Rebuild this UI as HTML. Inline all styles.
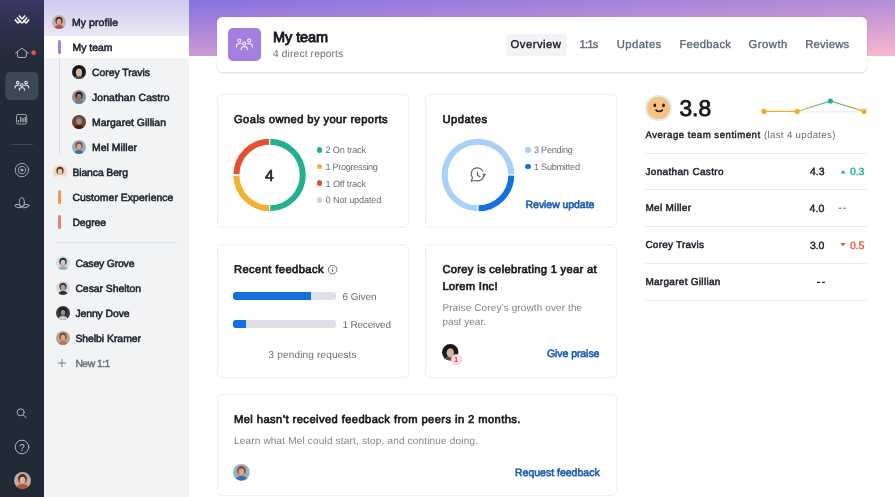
<!DOCTYPE html>
<html lang="en">
<head>
<meta charset="utf-8">
<title>My team</title>
<style>
*{box-sizing:border-box;margin:0;padding:0}
html,body{width:895px;height:497px;overflow:hidden}
body{font-family:"Liberation Sans",Arial,sans-serif;color:#1f2733;background:#fff;position:relative;text-rendering:geometricPrecision}
.abs{position:absolute}
#nav{left:0;top:0;width:44px;height:497px;background:linear-gradient(180deg,#393763 0px,#313254 18px,#292e45 36px,#252c3c 52px,#222b38 70px,#212a37 90px,#212a37 100%)}
#side{left:44px;top:0;width:144.600px;height:497px;background:linear-gradient(180deg,#cfc9ef 0px,#ddd9f1 18px,#e9e7f3 34px,#f2f3f5 52px,#f2f3f5 100%)}
#banner{left:188.500px;top:0;width:706.500px;height:55.600px;background:linear-gradient(177deg,#8670e0 0%,#f8b8cd 100%)}
.card{position:absolute;background:#fff;border:1px solid #eeeff0;border-radius:5px}
.t{position:absolute;white-space:pre;line-height:1}
.dot{position:absolute;width:5.6px;height:5.6px;border-radius:50%}
.hr{position:absolute;left:645px;width:222px;height:1px;background:#e9eaec}
.bar{position:absolute;left:233.4px;height:8.4px;border-radius:3px}
</style>
</head>
<body>
<div id="nav" class="abs">
<svg class="abs" style="left:0;top:0" width="44" height="497" viewBox="0 0 44 497" fill="none" stroke-linecap="round" stroke-linejoin="round">
<g stroke="#fff" stroke-width="1.500" stroke-linecap="butt">
<path d="M14.900 19.600l3.100 3.700M16.800 17.500l5.100 5.800M18.900 15.400l3 3.500M23.400 20.300l2.700 3"/>
<path d="M29.100 19.600l-3.100 3.700M27.200 17.500l-5.100 5.800M25.100 15.400l-3 3.500M20.600 20.300l-2.700 3"/>
</g>
<path d="M15.500 53.200l6.400-5.100 6.400 5.100M17.500 52.300v3.800a1.400 1.400 0 0 0 1.400 1.400h6a1.400 1.400 0 0 0 1.400-1.400v-3.800" stroke="#bcc2ca" stroke-width=".900"/>
<circle cx="33.650" cy="52.650" r="2.400" fill="#e4573f"/>
<rect x="5.300" y="72" width="33" height="28" rx="5" fill="#3c4959"/>
<g stroke="#eceef1" stroke-width="1.250" transform="translate(21.900,85.200) scale(.850)"><circle cx="-4.900" cy="-3.100" r="1.550"/><circle cx="4.900" cy="-3.100" r="1.550"/><circle cx="0" cy="-.100" r="1.550"/><path d="M-8 3.400v-.800a2.600 2.600 0 0 1 2.600-2.600h2.300M8 3.400v-.800a2.600 2.600 0 0 0-2.600-2.600h-2.300M-3 5.900v-.700a2.300 2.300 0 0 1 2.300-2.300h1.400a2.300 2.300 0 0 1 2.300 2.300v.700"/></g>
<g stroke="#a9b0b9" stroke-width=".900">
<rect x="16.500" y="114.500" width="10.200" height="9.500" rx="1.400"/>
<path d="M18.500 122.200v-1.900M20.800 122.200v-5.300M23 122.200v-4.400M25.200 122.200v-5.300" stroke="#e4e7eb" stroke-width=".950" stroke-linecap="butt"/>
</g>
<path d="M11 144.500h22" stroke="#3a4654" stroke-width="1" stroke-linecap="butt"/>
<g stroke="#b3b9c2" stroke-width=".900">
<circle cx="21.900" cy="170.100" r="6.700"/><circle cx="21.900" cy="170.100" r="3.700"/><circle cx="21.900" cy="170.100" r="1" fill="#b3b9c2"/>
</g>
<g stroke="#b3b9c2" stroke-width=".900">
<ellipse cx="21.900" cy="202.400" rx="2.500" ry="4.900"/>
<ellipse cx="18.200" cy="206.100" rx="3.400" ry="1.500" transform="rotate(14 18.200 206.100)"/>
<ellipse cx="25.600" cy="206.100" rx="3.400" ry="1.500" transform="rotate(-14 25.600 206.100)"/>
</g>
<g stroke="#b9bfc7" stroke-width=".900">
<circle cx="20.700" cy="412.300" r="3.500"/><path d="M23.300 414.900l2.900 2.900"/>
</g>
<circle cx="22" cy="447" r="6.800" stroke="#b9bfc7" stroke-width=".900"/>
<text x="22" y="450.600" text-anchor="middle" font-family="Liberation Sans, sans-serif" font-size="10" fill="#c3c8cf" stroke="none">?</text>
</svg>
<svg class="abs" style="left:13.5px;top:471.5px" width="17" height="17" viewBox="0 0 20 20"><defs><clipPath id="a1"><circle cx="10" cy="10" r="10"/></clipPath></defs><g clip-path="url(#a1)"><rect width="20" height="20" fill="#c9a89c"/><ellipse cx="10" cy="8" rx="5.2" ry="5.6" fill="#4a2f2a"/><path d="M2 21c1-5 4-6.800 8-6.800s7 1.800 8 6.800z" fill="#b5533c"/><ellipse cx="10" cy="9.6" rx="3.3" ry="4.1" fill="#e0b49c"/></g></svg></div>
<div id="side" class="abs">
<div class="abs" style="left:0;top:36px;width:144.600px;height:22px;background:#fff"></div>
<div class="abs" style="left:14.900px;top:58px;width:1.200px;height:96px;background:#dad5f3"></div>
<div class="abs" style="left:14px;top:40px;width:3.2px;height:14.2px;border-radius:1.6px;background:#9d80e6"></div>
<div class="abs" style="left:14px;top:190px;width:3.2px;height:14.2px;border-radius:1.6px;background:#ee9654"></div>
<div class="abs" style="left:14px;top:215px;width:3.2px;height:14.2px;border-radius:1.6px;background:#ee7d78"></div>
<div class="abs" style="left:12px;top:242px;width:121px;height:1px;background:#dfe2e7"></div>
<svg class="abs" style="left:13.400px;top:357.600px" width="10" height="10" viewBox="0 0 10 10"><path d="M5 .900v8.200M.900 5h8.200" stroke="#6b7380" stroke-width=".900" fill="none"/></svg>
<svg class="abs" style="left:8px;top:15.2px" width="14" height="14" viewBox="0 0 20 20"><defs><clipPath id="a2"><circle cx="10" cy="10" r="10"/></clipPath></defs><g clip-path="url(#a2)"><rect width="20" height="20" fill="#c4b0a8"/><ellipse cx="10" cy="8" rx="5.2" ry="5.6" fill="#4a2f2a"/><path d="M2 21c1-5 4-6.800 8-6.800s7 1.800 8 6.800z" fill="#b5533c"/><ellipse cx="10" cy="9.6" rx="3.3" ry="4.1" fill="#d9a68c"/></g></svg>
<svg class="abs" style="left:28.2px;top:65px" width="14" height="14" viewBox="0 0 20 20"><defs><clipPath id="a3"><circle cx="10" cy="10" r="10"/></clipPath></defs><g clip-path="url(#a3)"><rect width="20" height="20" fill="#1c1a1a"/><ellipse cx="10" cy="8" rx="5.2" ry="5.6" fill="#121212"/><path d="M2 21c1-5 4-6.800 8-6.800s7 1.800 8 6.800z" fill="#5a4a48"/><ellipse cx="10" cy="10.6" rx="4.4" ry="5.6" fill="#d3b3a4"/></g></svg>
<svg class="abs" style="left:28.2px;top:90px" width="14" height="14" viewBox="0 0 20 20"><defs><clipPath id="a4"><circle cx="10" cy="10" r="10"/></clipPath></defs><g clip-path="url(#a4)"><rect width="20" height="20" fill="#8a939e"/><ellipse cx="10" cy="8" rx="5.2" ry="5.6" fill="#2a1c16"/><path d="M2 21c1-5 4-6.800 8-6.800s7 1.800 8 6.800z" fill="#6e7d8c"/><ellipse cx="10" cy="9.6" rx="3.3" ry="4.1" fill="#a8714f"/></g></svg>
<svg class="abs" style="left:28.2px;top:115px" width="14" height="14" viewBox="0 0 20 20"><defs><clipPath id="a5"><circle cx="10" cy="10" r="10"/></clipPath></defs><g clip-path="url(#a5)"><rect width="20" height="20" fill="#7b3a2a"/><ellipse cx="10" cy="8" rx="5.2" ry="5.6" fill="#2f7f8f"/><path d="M2 21c1-5 4-6.800 8-6.800s7 1.800 8 6.800z" fill="#3a1c14"/><ellipse cx="10" cy="9.6" rx="3.3" ry="4.1" fill="#c08060"/></g></svg>
<svg class="abs" style="left:28.2px;top:140px" width="14" height="14" viewBox="0 0 20 20"><defs><clipPath id="a6"><circle cx="10" cy="10" r="10"/></clipPath></defs><g clip-path="url(#a6)"><rect width="20" height="20" fill="#8fb3c9"/><ellipse cx="10" cy="8" rx="5.2" ry="5.6" fill="#a33d2c"/><path d="M2 21c1-5 4-6.800 8-6.800s7 1.800 8 6.800z" fill="#3f6f9c"/><ellipse cx="10" cy="9.6" rx="3.3" ry="4.1" fill="#d6a78c"/></g></svg>
<svg class="abs" style="left:8.5px;top:165.2px" width="14" height="14" viewBox="0 0 20 20"><defs><clipPath id="a7"><circle cx="10" cy="10" r="10"/></clipPath></defs><g clip-path="url(#a7)"><rect width="20" height="20" fill="#f0d8c4"/><ellipse cx="10" cy="8" rx="5.2" ry="5.6" fill="#5a3424"/><path d="M2 21c1-5 4-6.800 8-6.800s7 1.800 8 6.800z" fill="#f4efe9"/><ellipse cx="10" cy="9.6" rx="3.3" ry="4.1" fill="#efc4a8"/></g></svg>
<svg class="abs" style="left:11.5px;top:255.6px" width="14" height="14" viewBox="0 0 20 20"><defs><clipPath id="a8"><circle cx="10" cy="10" r="10"/></clipPath></defs><g clip-path="url(#a8)"><rect width="20" height="20" fill="#cfe0ea"/><ellipse cx="10" cy="8" rx="5.2" ry="5.6" fill="#2b2b2b"/><path d="M2 21c1-5 4-6.800 8-6.800s7 1.800 8 6.800z" fill="#9ab0c0"/><ellipse cx="10" cy="9.6" rx="3.3" ry="4.1" fill="#e6c3ac"/></g></svg>
<svg class="abs" style="left:11.5px;top:280.6px" width="14" height="14" viewBox="0 0 20 20"><defs><clipPath id="a9"><circle cx="10" cy="10" r="10"/></clipPath></defs><g clip-path="url(#a9)"><rect width="20" height="20" fill="#d7dce2"/><ellipse cx="10" cy="8" rx="5.2" ry="5.6" fill="#3a3a3a"/><path d="M2 21c1-5 4-6.800 8-6.800s7 1.800 8 6.800z" fill="#2a2d33"/><ellipse cx="10" cy="9.6" rx="3.3" ry="4.1" fill="#c49a80"/></g></svg>
<svg class="abs" style="left:11.5px;top:305.6px" width="14" height="14" viewBox="0 0 20 20"><defs><clipPath id="a10"><circle cx="10" cy="10" r="10"/></clipPath></defs><g clip-path="url(#a10)"><rect width="20" height="20" fill="#3a3a3a"/><ellipse cx="10" cy="8" rx="5.2" ry="5.6" fill="#161616"/><path d="M2 21c1-5 4-6.800 8-6.800s7 1.800 8 6.800z" fill="#d0d0d0"/><ellipse cx="10" cy="9.6" rx="3.3" ry="4.1" fill="#8a8a8a"/></g></svg>
<svg class="abs" style="left:11.5px;top:330.6px" width="14" height="14" viewBox="0 0 20 20"><defs><clipPath id="a11"><circle cx="10" cy="10" r="10"/></clipPath></defs><g clip-path="url(#a11)"><rect width="20" height="20" fill="#b8a48c"/><ellipse cx="10" cy="8" rx="5.2" ry="5.6" fill="#6a4a34"/><path d="M2 21c1-5 4-6.800 8-6.800s7 1.800 8 6.800z" fill="#c0705a"/><ellipse cx="10" cy="9.6" rx="3.3" ry="4.1" fill="#d8a888"/></g></svg>
</div>
<div id="banner" class="abs"></div>
<div class="card" style="left:217px;top:16.500px;width:650px;height:55.500px;border:none;border-radius:5.500px;box-shadow:0 .500px 2px rgba(30,40,60,.17)">
<div class="abs" style="left:11px;top:11.500px;width:33.200px;height:33px;border-radius:5px;background:#a47fe0"></div>
<svg class="abs" style="left:16px;top:16px" width="24" height="24" viewBox="-12 -12 24 24" fill="none" stroke="#f6f0fd" stroke-width="1.100" stroke-linecap="round"><g transform="translate(-.700,-1.300)"><circle cx="-4.900" cy="-3.100" r="1.550"/><circle cx="4.900" cy="-3.100" r="1.550"/><circle cx="0" cy="-.100" r="1.550"/><path d="M-8 3.400v-.800a2.600 2.600 0 0 1 2.600-2.600h2.300M8 3.400v-.800a2.600 2.600 0 0 0-2.600-2.600h-2.300M-3 5.900v-.700a2.300 2.300 0 0 1 2.300-2.300h1.400a2.300 2.300 0 0 1 2.300 2.300v.700"/></g></svg>
<div class="abs" style="left:289px;top:17.300px;width:61.300px;height:21.800px;border-radius:4px;background:#f2f3f5"></div>
</div>
<div class="card" style="left:217px;top:94px;width:192px;height:134px"></div>
<div class="card" style="left:425px;top:94px;width:192px;height:134px"></div>
<div class="card" style="left:217px;top:244px;width:192px;height:133.500px"></div>
<div class="card" style="left:425px;top:244px;width:192px;height:133.500px"></div>
<div class="card" style="left:217px;top:394px;width:400px;height:102px"></div>
<svg class="abs" style="left:229px;top:135px" width="82" height="80" viewBox="229 135 82 80" fill="none" stroke-width="6"><path d="M270.28 141.71A33.3 33.3 0 0 1 270.28 208.29" stroke="#22b090"/><path d="M269.12 208.29A33.3 33.3 0 0 1 236.41 175.87" stroke="#f2b12e"/><path d="M236.41 174.13A33.3 33.3 0 0 1 269.12 141.71" stroke="#e54f32"/></svg>
<svg class="abs" style="left:437px;top:135px" width="82" height="80" viewBox="437 135 82 80" fill="none" stroke-width="6"><path d="M477.42 208.29A33.3 33.3 0 1 1 511.29 174.42" stroke="#a9d1f7"/><path d="M511.29 175.58A33.3 33.3 0 0 1 478.58 208.29" stroke="#1470da"/><g stroke="#5b616b" stroke-width="1.150" stroke-linecap="round" stroke-linejoin="round">
<path d="M482.61 171.04A6.1 6.1 0 1 0 472.41 177.66L471.400 181.300L475.51 180.46A6.1 6.1 0 0 0 483.84 175.65"/>
<path d="M477.500 171.800v3.500l2.300 1.500"/>
<path d="M483.100 173.900l2.500 .300-1.400 2.200z" fill="#5b616b" stroke-width=".600"/>
</g></svg>
<div class="dot" style="left:316.600px;top:147.2px;background:#22b090"></div><div class="dot" style="left:316.600px;top:163.8px;background:#f2b12e"></div><div class="dot" style="left:316.600px;top:180.4px;background:#e54f32"></div><div class="dot" style="left:316.600px;top:197.2px;background:#cfd4db"></div><div class="dot" style="left:525.200px;top:147.2px;background:#a9d1f7"></div><div class="dot" style="left:525.200px;top:163.8px;background:#1470da"></div>
<div class="bar" style="top:291.600px;width:103px;background:#dde1e6"></div><div class="bar" style="top:291.600px;width:77.200px;background:#1470da;border-radius:3px 0 0 3px"></div><div class="bar" style="top:319.500px;width:103px;background:#dde1e6"></div><div class="bar" style="top:319.500px;width:13px;background:#1470da;border-radius:3px 0 0 3px"></div>
<svg class="abs" style="left:327px;top:264px" width="11" height="11" viewBox="0 0 11 11" fill="none" stroke="#5b6470" stroke-width=".9"><circle cx="5.600" cy="5.600" r="4.300"/><path d="M5.600 5.200v2.600M5.600 3.400v.4" stroke-linecap="round"/></svg>
<svg class="abs" style="left:442.2px;top:344.3px" width="16.6" height="16.6" viewBox="0 0 20 20"><defs><clipPath id="a12"><circle cx="10" cy="10" r="10"/></clipPath></defs><g clip-path="url(#a12)"><rect width="20" height="20" fill="#1c1a1a"/><ellipse cx="10" cy="8" rx="5.2" ry="5.6" fill="#121212"/><path d="M2 21c1-5 4-6.800 8-6.800s7 1.800 8 6.800z" fill="#5a4a48"/><ellipse cx="10" cy="10.6" rx="4.4" ry="5.6" fill="#d3b3a4"/></g></svg>
<div class="abs" style="left:450.700px;top:353.900px;width:11px;height:11px;border-radius:50%;background:#fbe3e1;border:.600px solid #f3b9b4"></div>
<svg class="abs" style="left:233.4px;top:463.8px" width="16.8" height="16.8" viewBox="0 0 20 20"><defs><clipPath id="a13"><circle cx="10" cy="10" r="10"/></clipPath></defs><g clip-path="url(#a13)"><rect width="20" height="20" fill="#8fb3c9"/><ellipse cx="10" cy="8" rx="5.2" ry="5.6" fill="#a33d2c"/><path d="M2 21c1-5 4-6.800 8-6.800s7 1.800 8 6.800z" fill="#3f6f9c"/><ellipse cx="10" cy="9.6" rx="3.3" ry="4.1" fill="#d6a78c"/></g></svg>
<div class="abs" style="left:645.100px;top:94.700px;width:26.800px;height:26.800px;border-radius:50%;background:#d6f0ea"></div><div class="abs" style="left:647.400px;top:97px;width:22.200px;height:22.200px;border-radius:50%;background:#fac281"></div><svg class="abs" style="left:646.500px;top:96px" width="24" height="24" viewBox="0 0 24 24" fill="none"><ellipse cx="7.800" cy="9.400" rx="1.400" ry="1.800" fill="#201a1e"/><ellipse cx="16.500" cy="9.400" rx="1.400" ry="1.800" fill="#201a1e"/><path d="M9.100 14.200c1 1 2 1.300 3.100 1.300s2.100-.3 3.100-1.300" stroke="#201a1e" stroke-width="1.700" stroke-linecap="round"/></svg>
<svg class="abs" style="left:755px;top:92px" width="120" height="30" viewBox="755 92 120 30" fill="none">
<defs><linearGradient id="sg1" x1="797" x2="830" y1="0" y2="0" gradientUnits="userSpaceOnUse"><stop offset="0" stop-color="#f0ae2c"/><stop offset="1" stop-color="#22b090"/></linearGradient><linearGradient id="sg2" x1="830" x2="864" y1="0" y2="0" gradientUnits="userSpaceOnUse"><stop offset="0" stop-color="#22b090"/><stop offset="1" stop-color="#f0ae2c"/></linearGradient></defs>
<path d="M797 111.800h67" stroke="#e1e4e8" stroke-width=".8"/>
<path d="M764 111.400h33.200" stroke="#f0ae2c" stroke-width="1.100"/>
<path d="M797.200 111.400L830.400 101" stroke="url(#sg1)" stroke-width="1.100"/>
<path d="M830.400 101L864 111.400" stroke="url(#sg2)" stroke-width="1.100"/>
<circle cx="764" cy="111.400" r="2.600" fill="#f0ae2c"/><circle cx="797.200" cy="111.400" r="2.600" fill="#f0ae2c"/><circle cx="830.400" cy="101" r="2.600" fill="#22b090"/><circle cx="864" cy="111.400" r="2.600" fill="#f0ae2c"/>
</svg>
<svg class="abs" style="left:838px;top:165px" width="10" height="90" viewBox="838 165 10 90"><path d="M840.500 173.500l2.600-3.600 2.600 3.600z" fill="#22b090"/><path d="M840.400 243l2.600 3.600 2.600-3.600z" fill="#e5593f"/></svg>
<div class="hr" style="top:152.5px"></div><div class="hr" style="top:188.9px"></div><div class="hr" style="top:225.7px"></div><div class="hr" style="top:262.7px"></div><div class="hr" style="top:299.7px"></div>
<div class="t" style="left:72px;top:19px;font-size:10.4px;color:#1b202a;letter-spacing:0.11px;-webkit-text-stroke:0.55px #1b202a;">My profile</div>
<div class="t" style="left:72.6px;top:44px;font-size:10.4px;color:#1b202a;letter-spacing:-0.01px;-webkit-text-stroke:0.55px #1b202a;">My team</div>
<div class="t" style="left:92px;top:69px;font-size:10.4px;color:#1b202a;letter-spacing:-0.03px;-webkit-text-stroke:0.55px #1b202a;">Corey Travis</div>
<div class="t" style="left:92px;top:94px;font-size:10.4px;color:#1b202a;letter-spacing:0.1px;-webkit-text-stroke:0.55px #1b202a;">Jonathan Castro</div>
<div class="t" style="left:92px;top:119px;font-size:10.4px;color:#1b202a;letter-spacing:0.04px;-webkit-text-stroke:0.55px #1b202a;">Margaret Gillian</div>
<div class="t" style="left:92px;top:144px;font-size:10.4px;color:#1b202a;letter-spacing:0.06px;-webkit-text-stroke:0.55px #1b202a;">Mel Miller</div>
<div class="t" style="left:72.4px;top:169px;font-size:10.4px;color:#1b202a;letter-spacing:-0.1px;-webkit-text-stroke:0.55px #1b202a;">Bianca Berg</div>
<div class="t" style="left:72.4px;top:194px;font-size:10.4px;color:#1b202a;letter-spacing:0.06px;-webkit-text-stroke:0.55px #1b202a;">Customer Experience</div>
<div class="t" style="left:72.4px;top:219px;font-size:10.4px;color:#1b202a;letter-spacing:-0.1px;-webkit-text-stroke:0.55px #1b202a;">Degree</div>
<div class="t" style="left:75.4px;top:260px;font-size:10.4px;color:#1b202a;letter-spacing:-0.16px;-webkit-text-stroke:0.55px #1b202a;">Casey Grove</div>
<div class="t" style="left:75.4px;top:285px;font-size:10.4px;color:#1b202a;letter-spacing:-0.02px;-webkit-text-stroke:0.55px #1b202a;">Cesar Shelton</div>
<div class="t" style="left:75.4px;top:310px;font-size:10.4px;color:#1b202a;letter-spacing:-0.08px;-webkit-text-stroke:0.55px #1b202a;">Jenny Dove</div>
<div class="t" style="left:75.4px;top:335px;font-size:10.4px;color:#1b202a;letter-spacing:-0.02px;-webkit-text-stroke:0.55px #1b202a;">Shelbi Kramer</div>
<div class="t" style="left:75.4px;top:360px;font-size:10.4px;color:#6a6f77;letter-spacing:-0.52px;-webkit-text-stroke:0.4px #6a6f77;">New 1:1</div>
<div class="t" style="left:273px;top:31px;font-size:14.5px;color:#15181e;letter-spacing:-0.07px;-webkit-text-stroke:0.84px #15181e;">My team</div>
<div class="t" style="left:273px;top:50px;font-size:10.2px;color:#6a6f77;letter-spacing:0.15px;">4 direct reports</div>
<div class="t" style="left:510.6px;top:40px;font-size:11.3px;color:#15181e;letter-spacing:0.47px;-webkit-text-stroke:0.35px #15181e;">Overview</div>
<div class="t" style="left:579.4px;top:40px;font-size:11.3px;color:#59636f;letter-spacing:-0.79px;-webkit-text-stroke:0.3px #59636f;">1:1s</div>
<div class="t" style="left:616.8px;top:40px;font-size:11.3px;color:#59636f;letter-spacing:0.39px;-webkit-text-stroke:0.3px #59636f;">Updates</div>
<div class="t" style="left:679.4px;top:40px;font-size:11.3px;color:#59636f;letter-spacing:0.28px;-webkit-text-stroke:0.3px #59636f;">Feedback</div>
<div class="t" style="left:748.6px;top:40px;font-size:11.3px;color:#59636f;letter-spacing:0.48px;-webkit-text-stroke:0.3px #59636f;">Growth</div>
<div class="t" style="left:805.2px;top:40px;font-size:11.3px;color:#59636f;letter-spacing:0.23px;-webkit-text-stroke:0.3px #59636f;">Reviews</div>
<div class="t" style="left:234px;top:115px;font-size:11.2px;color:#15181e;letter-spacing:0.41px;-webkit-text-stroke:0.65px #15181e;">Goals owned by your reports</div>
<div class="t" style="left:265px;top:169px;font-size:15.8px;color:#15181e;letter-spacing:0.4px;-webkit-text-stroke:0.6px #15181e;">4</div>
<div class="t" style="left:325.6px;top:146px;font-size:9.2px;color:#6a6f77;letter-spacing:-0.22px;">2 On track</div>
<div class="t" style="left:325.6px;top:163px;font-size:9.2px;color:#6a6f77;letter-spacing:-0.36px;">1 Progressing</div>
<div class="t" style="left:325.6px;top:180px;font-size:9.2px;color:#6a6f77;letter-spacing:-0.18px;">1 Off track</div>
<div class="t" style="left:325.6px;top:196px;font-size:9.2px;color:#6a6f77;letter-spacing:-0.16px;">0 Not updated</div>
<div class="t" style="left:442.4px;top:115px;font-size:11.2px;color:#15181e;letter-spacing:0.49px;-webkit-text-stroke:0.65px #15181e;">Updates</div>
<div class="t" style="left:534px;top:146px;font-size:9.2px;color:#6a6f77;letter-spacing:-0.3px;">3 Pending</div>
<div class="t" style="left:534px;top:163px;font-size:9.2px;color:#6a6f77;letter-spacing:-0.3px;">1 Submitted</div>
<div class="t" style="left:525.6px;top:200px;font-size:10.5px;color:#1d5fb6;letter-spacing:-0.06px;-webkit-text-stroke:0.61px #1d5fb6;">Review update</div>
<div class="t" style="left:234px;top:265px;font-size:11.2px;color:#15181e;letter-spacing:0.4px;-webkit-text-stroke:0.65px #15181e;">Recent feedback</div>
<div class="t" style="left:342.4px;top:293px;font-size:10px;color:#6a6f77;letter-spacing:-0.04px;">6 Given</div>
<div class="t" style="left:342.4px;top:321px;font-size:10px;color:#6a6f77;letter-spacing:-0.16px;">1 Received</div>
<div class="t" style="left:268.6px;top:351px;font-size:10px;color:#6a6f77;letter-spacing:0.17px;">3 pending requests</div>
<div class="t" style="left:442.4px;top:265px;font-size:11.2px;color:#15181e;letter-spacing:0.3px;-webkit-text-stroke:0.65px #15181e;">Corey is celebrating 1 year at</div>
<div class="t" style="left:442.4px;top:282px;font-size:11.2px;color:#15181e;letter-spacing:0.26px;-webkit-text-stroke:0.65px #15181e;">Lorem Inc!</div>
<div class="t" style="left:442.4px;top:304px;font-size:10px;color:#7e838b;letter-spacing:0.11px;">Praise Corey’s growth over the</div>
<div class="t" style="left:442.4px;top:318px;font-size:10px;color:#7e838b;letter-spacing:0.03px;">past year.</div>
<div class="t" style="left:547px;top:349px;font-size:10.5px;color:#1d5fb6;letter-spacing:-0.07px;-webkit-text-stroke:0.61px #1d5fb6;">Give praise</div>
<div class="t" style="left:234px;top:415px;font-size:11.2px;color:#15181e;letter-spacing:0.41px;-webkit-text-stroke:0.65px #15181e;">Mel hasn’t received feedback from peers in 2 months.</div>
<div class="t" style="left:234px;top:437px;font-size:10px;color:#7e838b;letter-spacing:0.18px;">Learn what Mel could start, stop, and continue doing.</div>
<div class="t" style="left:515px;top:468px;font-size:10.5px;color:#1d5fb6;-webkit-text-stroke:0.61px #1d5fb6;">Request feedback</div>
<div class="t" style="left:679.4px;top:97px;font-size:22.8px;color:#15181e;letter-spacing:0.05px;-webkit-text-stroke:0.8px #15181e;">3.8</div>
<div class="t" style="left:645.4px;top:131px;font-size:9.6px;color:#1b202a;letter-spacing:0.52px;-webkit-text-stroke:0.45px #1b202a;">Average team sentiment</div>
<div class="t" style="left:764px;top:131px;font-size:9.6px;color:#6a6f77;letter-spacing:0.35px;">(last 4 updates)</div>
<div class="t" style="left:645.4px;top:168px;font-size:10px;color:#1b202a;letter-spacing:0.34px;-webkit-text-stroke:0.5px #1b202a;">Jonathan Castro</div>
<div class="t" style="left:645.4px;top:204px;font-size:10px;color:#1b202a;letter-spacing:0.31px;-webkit-text-stroke:0.5px #1b202a;">Mel Miller</div>
<div class="t" style="left:645.4px;top:241px;font-size:10px;color:#1b202a;letter-spacing:0.23px;-webkit-text-stroke:0.5px #1b202a;">Corey Travis</div>
<div class="t" style="left:645.4px;top:278px;font-size:10px;color:#1b202a;letter-spacing:0.29px;-webkit-text-stroke:0.5px #1b202a;">Margaret Gillian</div>
<div class="t" style="left:810px;top:167px;font-size:10.5px;color:#1b202a;-webkit-text-stroke:0.45px #1b202a;">4.3</div>
<div class="t" style="left:809.4px;top:204px;font-size:10.5px;color:#1b202a;letter-spacing:0.2px;-webkit-text-stroke:0.45px #1b202a;">4.0</div>
<div class="t" style="left:810px;top:241px;font-size:10.5px;color:#1b202a;letter-spacing:-0.1px;-webkit-text-stroke:0.45px #1b202a;">3.0</div>
<div class="t" style="left:850px;top:167px;font-size:10.5px;color:#22b090;letter-spacing:-0.1px;-webkit-text-stroke:0.35px #22b090;">0.3</div>
<div class="t" style="left:850px;top:241px;font-size:10.5px;color:#e5593f;letter-spacing:-0.1px;-webkit-text-stroke:0.35px #e5593f;">0.5</div>
<div class="t" style="left:838.4px;top:204px;font-size:10px;color:#6a6f77;letter-spacing:0.93px;-webkit-text-stroke:0.2px #6a6f77;">--</div>
<div class="t" style="left:817px;top:278px;font-size:10px;color:#1b202a;letter-spacing:1.53px;-webkit-text-stroke:0.5px #1b202a;">--</div>
<div class="t" style="left:453.700px;top:355.500px;width:5px;text-align:center;font-size:7.500px;font-weight:bold;color:#d83a50">1</div>
</body>
</html>
